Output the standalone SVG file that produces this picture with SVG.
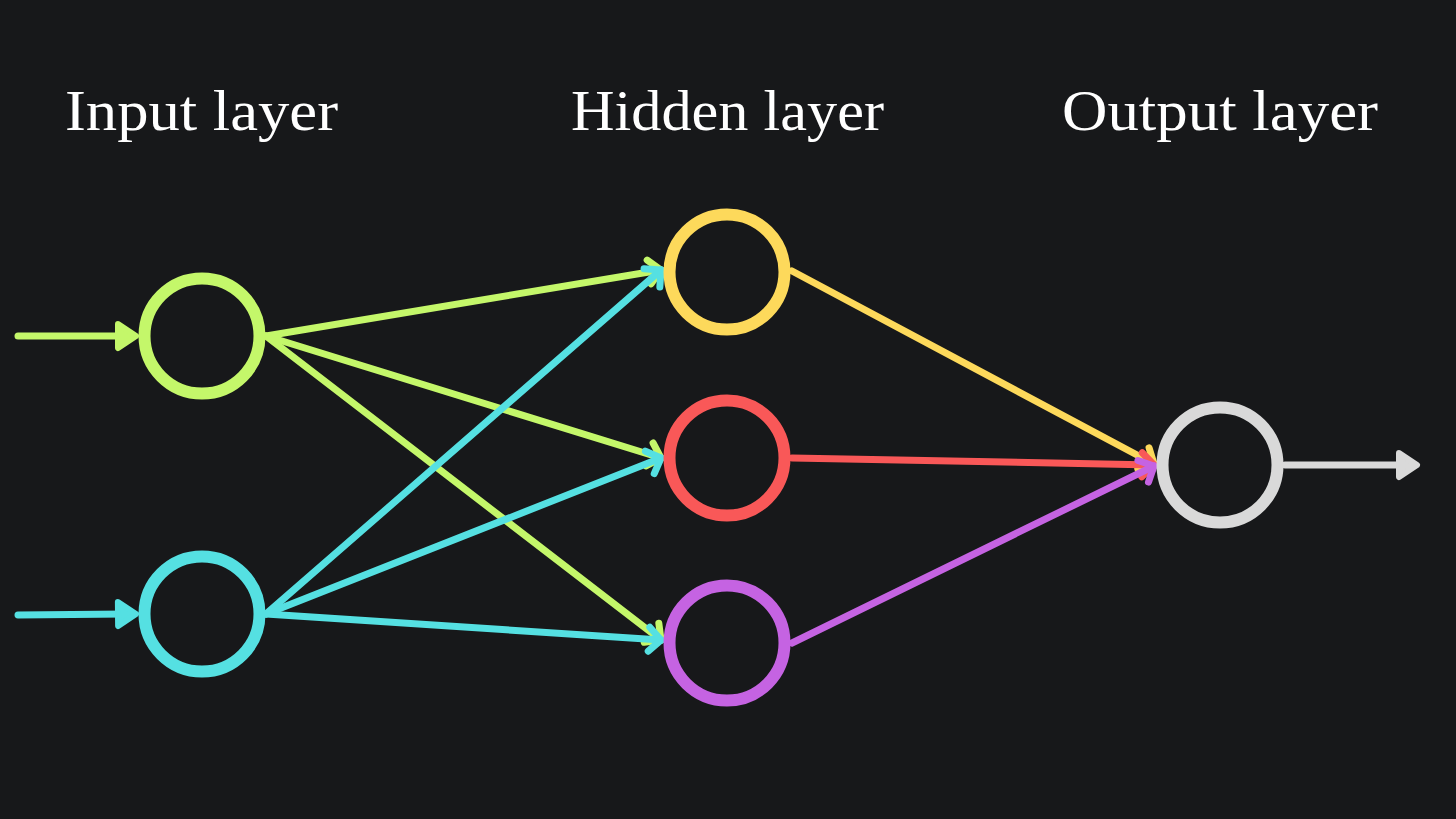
<svg xmlns="http://www.w3.org/2000/svg" width="1456" height="819" viewBox="0 0 1456 819">
<style>
.node{fill:none;stroke-width:12}
.lbl{font-family:"Liberation Serif","DejaVu Serif",serif;font-size:58px;fill:#ffffff}
.c{fill:none;stroke-width:7;stroke-linecap:round}
</style>
<defs>
<marker id="chG" markerUnits="userSpaceOnUse" orient="auto" markerWidth="40" markerHeight="40" viewBox="-30 -20 40 40" refX="0" refY="0" overflow="visible"><path d="M-12,-12 L0,0 L-12,12" fill="none" stroke="#c4f76a" stroke-width="7" stroke-linecap="round" stroke-linejoin="round"/></marker>
<marker id="chC" markerUnits="userSpaceOnUse" orient="auto" markerWidth="40" markerHeight="40" viewBox="-30 -20 40 40" refX="0" refY="0" overflow="visible"><path d="M-12,-12 L0,0 L-12,12" fill="none" stroke="#55e0e2" stroke-width="7" stroke-linecap="round" stroke-linejoin="round"/></marker>
<marker id="chY" markerUnits="userSpaceOnUse" orient="auto" markerWidth="40" markerHeight="40" viewBox="-30 -20 40 40" refX="0" refY="0" overflow="visible"><path d="M-12,-12 L0,0 L-12,12" fill="none" stroke="#fdd95b" stroke-width="7" stroke-linecap="round" stroke-linejoin="round"/></marker>
<marker id="chR" markerUnits="userSpaceOnUse" orient="auto" markerWidth="40" markerHeight="40" viewBox="-30 -20 40 40" refX="0" refY="0" overflow="visible"><path d="M-12,-12 L0,0 L-12,12" fill="none" stroke="#f95858" stroke-width="7" stroke-linecap="round" stroke-linejoin="round"/></marker>
<marker id="chP" markerUnits="userSpaceOnUse" orient="auto" markerWidth="40" markerHeight="40" viewBox="-30 -20 40 40" refX="0" refY="0" overflow="visible"><path d="M-12,-12 L0,0 L-12,12" fill="none" stroke="#c563e2" stroke-width="7" stroke-linecap="round" stroke-linejoin="round"/></marker>
<marker id="triG" markerUnits="userSpaceOnUse" orient="auto" markerWidth="40" markerHeight="40" viewBox="-30 -20 40 40" refX="0" refY="0" overflow="visible"><path d="M-8,-12 L10,0 L-8,12 Z" fill="#c4f76a" stroke="#c4f76a" stroke-width="6" stroke-linejoin="round"/></marker>
<marker id="triC" markerUnits="userSpaceOnUse" orient="auto" markerWidth="40" markerHeight="40" viewBox="-30 -20 40 40" refX="0" refY="0" overflow="visible"><path d="M-8,-12 L10,0 L-8,12 Z" fill="#55e0e2" stroke="#55e0e2" stroke-width="6" stroke-linejoin="round"/></marker>
<marker id="triW" markerUnits="userSpaceOnUse" orient="auto" markerWidth="40" markerHeight="40" viewBox="-30 -20 40 40" refX="0" refY="0" overflow="visible"><path d="M-8,-12 L10,0 L-8,12 Z" fill="#d9d9d9" stroke="#d9d9d9" stroke-width="6" stroke-linejoin="round"/></marker>
</defs>
<rect width="1456" height="819" fill="#17181a"/>
<g id="labels">
<text class="lbl" x="65" y="130" textLength="273" lengthAdjust="spacingAndGlyphs">Input layer</text>
<text class="lbl" x="571" y="130" textLength="313" lengthAdjust="spacingAndGlyphs">Hidden layer</text>
<text class="lbl" x="1062" y="130" textLength="316" lengthAdjust="spacingAndGlyphs">Output layer</text>
</g>
<g id="connectors">
<line class="c" x1="18" y1="336" x2="126" y2="336" stroke="#c4f76a" stroke-linecap="butt" marker-end="url(#triG)"/>
<line class="c" x1="18" y1="615" x2="126" y2="614" stroke="#55e0e2" stroke-linecap="butt" marker-end="url(#triC)"/>
<line class="c" x1="266" y1="336" x2="661" y2="270" stroke="#c4f76a" marker-end="url(#chG)"/>
<line class="c" x1="266" y1="336" x2="661" y2="458" stroke="#c4f76a" marker-end="url(#chG)"/>
<line class="c" x1="266" y1="336" x2="661" y2="640" stroke="#c4f76a" marker-end="url(#chG)"/>
<line class="c" x1="266" y1="614" x2="661" y2="270" stroke="#55e0e2" marker-end="url(#chC)"/>
<line class="c" x1="266" y1="614" x2="661" y2="458" stroke="#55e0e2" marker-end="url(#chC)"/>
<line class="c" x1="266" y1="614" x2="661" y2="640" stroke="#55e0e2" marker-end="url(#chC)"/>
<line class="c" x1="792" y1="271" x2="1154" y2="464" stroke="#fdd95b" marker-end="url(#chY)"/>
<line class="c" x1="792" y1="458" x2="1154" y2="465" stroke="#f95858" marker-end="url(#chR)"/>
<line class="c" x1="792" y1="643" x2="1154" y2="466" stroke="#c563e2" marker-end="url(#chP)"/>
<line class="c" x1="1285" y1="465" x2="1407" y2="465" stroke="#d9d9d9" stroke-linecap="butt" marker-end="url(#triW)"/>
</g>
<g id="in1"><circle class="node" cx="202" cy="336" r="57.5" stroke="#c4f76a"/></g>
<g id="in2"><circle class="node" cx="202" cy="614" r="57.5" stroke="#55e0e2"/></g>
<g id="h1"><circle class="node" cx="727" cy="272" r="57.5" stroke="#fdd95b"/></g>
<g id="h2"><circle class="node" cx="727" cy="458" r="57.5" stroke="#f95858"/></g>
<g id="h3"><circle class="node" cx="727" cy="643" r="57.5" stroke="#c563e2"/></g>
<g id="out"><circle class="node" cx="1220" cy="465" r="57.5" stroke="#d9d9d9"/></g>
</svg>
